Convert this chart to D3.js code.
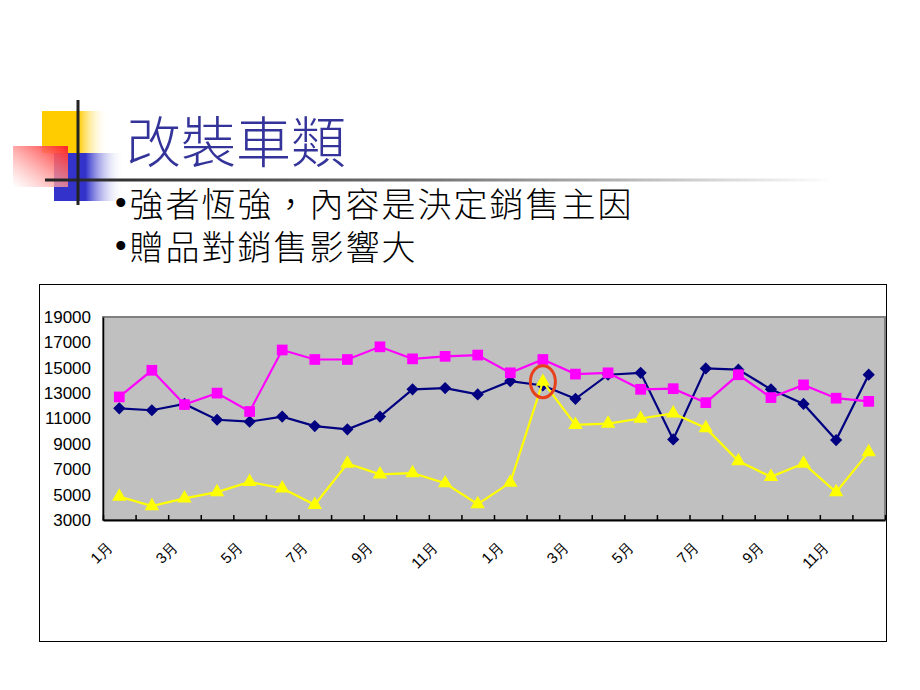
<!DOCTYPE html>
<html>
<head>
<meta charset="utf-8">
<script src="https://cdn.jsdelivr.net/npm/d3@7"></script>
<style>
  body { margin: 0; background: #fff; }
  svg { display: block; }
</style>
</head>
<body>
<script>
// --- data ---
const months = ['1月', '2月', '3月', '4月', '5月', '6月', '7月', '8月', '9月', '10月', '11月', '12月',
  '1月', '2月', '3月', '4月', '5月', '6月', '7月', '8月', '9月', '10月', '11月', '12月'];

const navySeries = [11800, 11650, 12150, 10900, 10750, 11150, 10400, 10150, 11150, 13300, 13400, 12900,
  13950, 13600, 12550, 14450, 14600, 9350, 14950, 14850, 13300, 12150, 9300, 14450];

const magentaSeries = [12700, 14800, 12100, 13000, 11550, 16400, 15650, 15650, 16650, 15700, 15900, 16000,
  14600, 15650, 14500, 14600, 13300, 13350, 12250, 14450, 12650, 13650, 12600, 12350];

const yellowSeries = [4850, 4100, 4700, 5200, 6000, 5500, 4200, 7450, 6600, 6700, 5900, 4250,
  5950, 13900, 10500, 10600, 11000, 11400, 10250, 7650, 6400, 7450, 5200, 8350];

const yTicks = [3000, 5000, 7000, 9000, 11000, 13000, 15000, 17000, 19000];
const labelEvery = 2;

const title = '改裝車類';
const bullets = ['強者恆強，內容是決定銷售主因', '贈品對銷售影響大'];

const W = 920, H = 690;

const svg = d3.select('body').append('svg')
  .attr('width', W)
  .attr('height', H);

const defs = svg.append('defs');

function hGrad(id, stops, x1 = '0%', y1 = '0%', x2 = '100%', y2 = '0%') {
  const g = defs.append('linearGradient').attr('id', id)
    .attr('x1', x1).attr('y1', y1).attr('x2', x2).attr('y2', y2);
  stops.forEach(s => g.append('stop').attr('offset', s[0]).attr('stop-color', s[1]).attr('stop-opacity', s[2] == null ? 1 : s[2]));
}

hGrad('g-yellow', [[0, '#ffcc00'], [0.55, '#ffcc00'], [1, '#ffffff', 0]]);
hGrad('g-blue', [[0, '#3333cc'], [0.45, '#3333cc'], [1, '#ffffff', 0]]);
hGrad('g-red', [[0, '#ffffff', 0.6], [1, '#ff2222']], '0%', '100%', '100%', '0%');
hGrad('g-rule', [[0, '#222'], [0.5, '#777'], [1, '#fff']]);

// --- slide decoration ---
const deco = svg.append('g').attr('class', 'deco');
deco.append('rect').attr('x', 42).attr('y', 111).attr('width', 66).attr('height', 42).attr('fill', 'url(#g-yellow)');
deco.append('rect').attr('x', 54).attr('y', 153).attr('width', 70).attr('height', 48).attr('fill', 'url(#g-blue)');
deco.append('rect').attr('x', 13).attr('y', 146).attr('width', 55).attr('height', 41).attr('fill', 'url(#g-red)');
deco.append('rect').attr('x', 45).attr('y', 178.5).attr('width', 790).attr('height', 3).attr('fill', 'url(#g-rule)');
deco.append('line').attr('x1', 78).attr('x2', 78).attr('y1', 100).attr('y2', 205)
  .attr('stroke', '#222').attr('stroke-width', 3);

svg.append('text')
  .attr('x', 126).attr('y', 162)
  .attr('font-family', '"Noto Sans CJK TC", sans-serif')
  .attr('font-weight', 300)
  .attr('font-size', 55)
  .attr('fill', '#333399')
  .text(title);

bullets.forEach((b, i) => {
  const t = svg.append('text')
    .attr('x', 115).attr('y', 217 + i * 43)
    .attr('fill', '#000');
  t.append('tspan')
    .attr('font-family', '"Liberation Sans", Arial, sans-serif')
    .attr('font-size', 33)
    .attr('dy', -3)
    .text('•');
  t.append('tspan')
    .attr('font-family', '"Noto Sans CJK TC", sans-serif')
    .attr('font-weight', 300)
    .attr('font-size', 34)
    .attr('dx', 3)
    .attr('dy', 3)
    .attr('letter-spacing', 2)
    .text(b);
});

// --- chart ---
svg.append('rect')
  .attr('x', 39.5).attr('y', 284.5).attr('width', 847).attr('height', 357)
  .attr('fill', '#fff').attr('stroke', '#000').attr('stroke-width', 1);

const plot = { left: 103, top: 317, right: 885, bottom: 520 };

const x = d3.scaleBand()
  .domain(d3.range(months.length))
  .range([plot.left, plot.right]);

const xEdge = d3.scaleLinear()
  .domain([0, months.length])
  .range([plot.left, plot.right]);

const y = d3.scaleLinear()
  .domain([3000, 19000])
  .range([plot.bottom, plot.top]);

const cx = i => x(i) + x.bandwidth() / 2;

svg.append('rect')
  .attr('x', plot.left).attr('y', plot.top)
  .attr('width', plot.right - plot.left).attr('height', plot.bottom - plot.top)
  .attr('fill', '#c0c0c0').attr('stroke', '#808080').attr('stroke-width', 2);

// y axis
const yAxis = svg.append('g')
  .attr('transform', `translate(${ plot.left },0)`)
  .call(d3.axisLeft(y).tickValues(yTicks).tickSize(0).tickPadding(12).tickFormat(d3.format('d')));
yAxis.select('.domain').attr('stroke', '#000').attr('stroke-width', 1.5);
yAxis.selectAll('text')
  .attr('font-family', '"Liberation Sans", Arial, sans-serif')
  .attr('font-size', 17)
  .attr('fill', '#000');

// x axis (ticks between categories, pointing inward)
const xAxis = svg.append('g')
  .attr('transform', `translate(0,${ plot.bottom })`)
  .call(d3.axisBottom(xEdge).tickValues(d3.range(months.length + 1)).tickSizeInner(-5).tickSizeOuter(0).tickFormat(''));
xAxis.select('.domain').attr('stroke', '#000').attr('stroke-width', 2);
xAxis.selectAll('.tick line').attr('stroke', '#000').attr('stroke-width', 1.5);

svg.append('g')
  .selectAll('text')
  .data(months.map((m, i) => ({ m, i })).filter(d => d.i % labelEvery === 0))
  .enter()
  .append('text')
  .attr('transform', d => `translate(${ cx(d.i) - 14 },${ 540 }) rotate(-45)`)
  .attr('text-anchor', 'end')
  .attr('dy', '0.75em')
  .attr('font-family', '"Liberation Sans", Arial, sans-serif')
  .attr('font-size', 15)
  .attr('fill', '#000')
  .text(d => d.m);

const line = d3.line()
  .x((d, i) => cx(i))
  .y(d => y(d));

const seriesList = [
  { values: navySeries, color: '#000080', shape: d3.symbolDiamond2, size: 95 },
  { values: magentaSeries, color: '#ff00ff', shape: d3.symbolSquare, size: 115 },
  { values: yellowSeries, color: '#ffff00', shape: d3.symbolTriangle, size: 90 }
];

seriesList.forEach(s => {
  const g = svg.append('g');
  g.append('path')
    .datum(s.values)
    .attr('d', line)
    .attr('fill', 'none')
    .attr('stroke', s.color)
    .attr('stroke-width', 2.2);
  g.selectAll('path.mark')
    .data(s.values)
    .enter()
    .append('path')
    .attr('class', 'mark')
    .attr('transform', (d, i) => `translate(${ cx(i) },${ y(d) })`)
    .attr('d', d3.symbol().type(s.shape).size(s.size))
    .attr('fill', s.color);
});

// highlight circle
svg.append('ellipse')
  .attr('cx', cx(13)).attr('cy', y(yellowSeries[13]))
  .attr('rx', 12.5).attr('ry', 16)
  .attr('fill', 'none')
  .attr('stroke', '#e8401c')
  .attr('stroke-width', 3);
</script>
</body>
</html>
